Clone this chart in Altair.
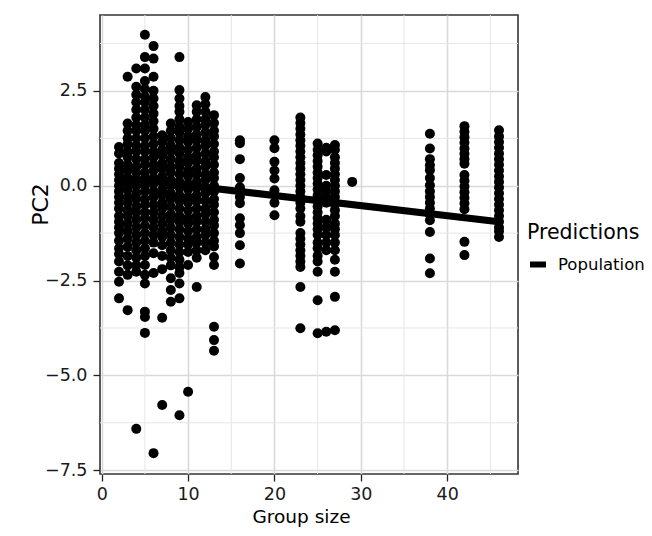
import altair as alt
import pandas as pd

# ---- data ----
group_sizes = [2, 3, 4, 5, 6, 7, 8, 9, 10, 11, 12, 13, 16, 20, 23, 25, 26, 27, 29, 38, 42, 46]

pc2_g2 = [1.02, 0.85, 0.6, 0.45, 0.3, 0.15, 0.0, -0.15, -0.3, -0.45, -0.6, -0.8, -0.95, -1.1, -1.25,
          -1.45, -1.65, -1.8, -2.0, -2.27, -2.53, -2.97]
pc2_g3 = [2.87, 1.64, 1.45, 1.25, 1.1, 0.9, 0.75, 0.55, 0.4, 0.2, 0.05, -0.1, -0.3, -0.45, -0.65,
          -0.8, -1.0, -1.2, -1.4, -1.61, -1.85, -2.1, -2.35, -3.28]
pc2_g4 = [3.09, 2.61, 2.4, 2.2, 2.0, 1.8, 1.6, 1.45, 1.25, 1.05, 0.9, 0.7, 0.5, 0.35, 0.15, 0.0,
          -0.2, -0.35, -0.55, -0.7, -0.9, -1.1, -1.3, -1.5, -1.7, -1.9, -2.1, -2.27, -6.41]
pc2_g5 = [3.98, 3.39, 3.09, 2.76, 2.55, 2.35, 2.2, 2.0, 1.8, 1.6, 1.45, 1.25, 1.05, 0.9, 0.7, 0.55,
          0.35, 0.2, 0.0, -0.15, -0.35, -0.5, -0.7, -0.85, -1.05, -1.25, -1.45, -1.65, -1.85,
          -2.09, -2.35, -2.58, -3.32, -3.46, -3.88]
pc2_g6 = [3.68, 3.35, 2.87, 2.5, 2.3, 2.1, 1.9, 1.7, 1.5, 1.3, 1.1, 0.9, 0.75, 0.55, 0.4, 0.2, 0.05,
          -0.15, -0.3, -0.5, -0.7, -0.9, -1.1, -1.3, -1.5, -1.78, -2.3, -7.05]
pc2_g7 = [1.33, 1.15, 0.95, 0.8, 0.6, 0.45, 0.25, 0.1, -0.1, -0.25, -0.45, -0.6, -0.8, -1.0, -1.2,
          -1.35, -1.57, -1.85, -2.2, -3.48, -5.78]
pc2_g8 = [1.64, 1.45, 1.25, 1.05, 0.9, 0.7, 0.5, 0.35, 0.15, 0.0, -0.2, -0.35, -0.55, -0.75, -0.9,
          -1.1, -1.3, -1.5, -1.7, -1.9, -2.1, -2.44, -2.75, -3.06]
pc2_g9 = [3.39, 2.52, 2.3, 2.1, 1.95, 1.75, 1.55, 1.4, 1.2, 1.0, 0.85, 0.65, 0.5, 0.3, 0.1, -0.05,
          -0.25, -0.4, -0.6, -0.8, -0.95, -1.15, -1.35, -1.55, -1.75, -1.95, -2.15, -2.3, -2.58,
          -2.97, -6.05]
pc2_g10 = [1.68, 1.5, 1.3, 1.15, 0.95, 0.75, 0.6, 0.4, 0.25, 0.05, -0.1, -0.3, -0.45, -0.65, -0.85,
           -1.0, -1.2, -1.4, -1.55, -1.75, -2.09, -5.43]
pc2_g11 = [2.12, 1.95, 1.75, 1.55, 1.35, 1.2, 1.0, 0.8, 0.65, 0.45, 0.3, 0.1, -0.05, -0.25, -0.4,
           -0.6, -0.8, -0.95, -1.15, -1.35, -1.5, -1.7, -1.9, -2.67]
pc2_g12 = [2.34, 2.15, 1.95, 1.75, 1.6, 1.4, 1.2, 1.05, 0.85, 0.65, 0.5, 0.3, 0.15, -0.05, -0.2,
           -0.4, -0.6, -0.75, -0.95, -1.15, -1.3, -1.5, -1.7]
pc2_g13 = [1.86, 1.65, 1.45, 1.3, 1.1, 0.9, 0.75, 0.55, 0.35, 0.2, 0.0, -0.15, -0.35, -0.5, -0.7,
           -0.9, -1.05, -1.25, -1.45, -1.6, -1.88, -2.09, -3.72, -4.07, -4.35]
pc2_g16 = [1.2, 1.12, 0.7, 0.2, -0.04, -0.12, -0.3, -0.46, -0.86, -1.04, -1.25, -1.57, -2.05]
pc2_g20 = [1.2, 0.99, 0.63, 0.4, 0.19, -0.12, -0.45, -0.78]
pc2_g23 = [1.8, 1.65, 1.5, 1.35, 1.2, 1.05, 0.9, 0.75, 0.6, 0.45, 0.3, 0.15, 0.0, -0.15, -0.3,
           -0.45, -0.6, -0.8, -0.95, -1.25, -1.4, -1.55, -1.7, -1.85, -2.0, -2.14, -2.67, -3.76]
pc2_g25 = [1.11, 0.95, 0.8, 0.65, 0.5, 0.35, 0.2, 0.05, -0.1, -0.25, -0.4, -0.55, -0.7, -0.85, -1.0,
           -1.15, -1.3, -1.5, -1.65, -1.85, -2.0, -2.27, -3.02, -3.89]
pc2_g26 = [1.0, 0.9, 0.28, 0.0, -0.15, -0.3, -0.45, -0.9, -1.1, -1.3, -1.5, -1.7, -3.85]
pc2_g27 = [1.07, 0.95, 0.75, 0.6, 0.45, 0.3, 0.15, 0.0, -0.15, -0.3, -0.5, -0.65, -0.8, -1.0, -1.15,
           -1.3, -1.5, -1.7, -1.95, -2.27, -2.93, -3.81]
pc2_g29 = [0.1]
pc2_g38 = [1.37, 0.98, 0.7, 0.54, 0.41, 0.2, 0.01, -0.15, -0.3, -0.45, -0.6, -0.75, -0.91, -1.22,
           -1.92, -2.31]
pc2_g42 = [1.57, 1.42, 1.28, 1.13, 0.98, 0.84, 0.7, 0.58, 0.28, 0.13, -0.02, -0.17, -0.32, -0.47,
           -0.62, -1.48, -1.83]
pc2_g46 = [1.46, 1.3, 1.15, 1.0, 0.85, 0.7, 0.55, 0.4, 0.25, 0.1, -0.05, -0.2, -0.35, -0.5, -0.65,
           -0.8, -0.95, -1.1, -1.2, -1.35]

pc2_columns = [pc2_g2, pc2_g3, pc2_g4, pc2_g5, pc2_g6, pc2_g7, pc2_g8, pc2_g9, pc2_g10, pc2_g11,
               pc2_g12, pc2_g13, pc2_g16, pc2_g20, pc2_g23, pc2_g25, pc2_g26, pc2_g27, pc2_g29,
               pc2_g38, pc2_g42, pc2_g46]

# population prediction line
pred_x = [2, 46]
pred_y = [0.22, -0.95]
pred_label = "Population"

x_ticks = [0, 10, 20, 30, 40]
y_ticks = [-7.5, -5.0, -2.5, 0.0, 2.5]
x_minor = [5, 15, 25, 35, 45]
y_minor = [-6.25, -3.75, -1.25, 1.25, 3.75]

# ---- tables ----
rows = []
for g, vals in zip(group_sizes, pc2_columns):
    for v in vals:
        rows.append({"size": g, "pc2": v})
pts = pd.DataFrame(rows)
pred = pd.DataFrame({"size": pred_x, "pc2": pred_y, "series": [pred_label] * len(pred_x)})
xm = pd.DataFrame({"v": x_minor})
ym = pd.DataFrame({"v": y_minor})

xs = alt.Scale(domain=[-0.2, 48.2], nice=False, zero=False)
ys = alt.Scale(domain=[-7.6, 4.5], nice=False, zero=False)

FONT = "DejaVu Sans"
TXT = "#1a1a1a"

xaxis = alt.Axis(values=x_ticks, title="Group size", grid=True, gridColor="#d9d9d9", gridWidth=1.6,
                 domain=False, tickColor="#222", tickWidth=1.3, tickSize=7,
                 labelFontSize=17.5, labelColor=TXT, labelFont=FONT, labelPadding=4,
                 titleFontSize=18.5, titleFont=FONT, titleColor="#000", titleFontWeight="normal",
                 titlePadding=5, titleX=201)
yaxis = alt.Axis(values=y_ticks, format=".1f", title="PC2", grid=True, gridColor="#d9d9d9",
                 gridWidth=1.6, domain=False, tickColor="#222", tickWidth=1.3, tickSize=7,
                 labelFontSize=17.5, labelColor=TXT, labelFont=FONT, labelPadding=6,
                 titleFontSize=22, titleFont=FONT, titleColor="#000", titleFontWeight="normal",
                 titleX=-48, titleY=189)

minor_x = alt.Chart(xm).mark_rule(color="#e6e6e6", strokeWidth=1).encode(
    x=alt.X("v:Q", scale=xs, axis=xaxis))
minor_y = alt.Chart(ym).mark_rule(color="#e6e6e6", strokeWidth=1).encode(
    y=alt.Y("v:Q", scale=ys, axis=yaxis))

points = alt.Chart(pts).mark_circle(size=100, color="black", opacity=1).encode(
    x=alt.X("size:Q", scale=xs, axis=xaxis),
    y=alt.Y("pc2:Q", scale=ys, axis=yaxis),
)

line = alt.Chart(pred).mark_line(strokeWidth=7, strokeCap="butt").encode(
    x=alt.X("size:Q", scale=xs, axis=xaxis),
    y=alt.Y("pc2:Q", scale=ys, axis=yaxis),
    color=alt.Color("series:N", scale=alt.Scale(domain=[pred_label], range=["black"]),
                    legend=alt.Legend(title="Predictions", orient="none", legendX=427, legendY=208,
                                      titleFontSize=20.5, titleFont=FONT, titleColor="#000",
                                      titleFontWeight="normal", titlePadding=10,
                                      labelFontSize=16.5, labelFont=FONT, labelColor="#000",
                                      labelOffset=9, symbolType="stroke", symbolStrokeWidth=6,
                                      symbolSize=256, symbolStrokeColor="black")),
)

chart = alt.layer(minor_x, minor_y, points, line).properties(
    width=418, height=459,
    autosize=alt.AutoSizeParams(type="none"),
    padding={"left": 92, "top": 7, "right": 126, "bottom": 54},
    background="white",
).configure_view(stroke="#333333", strokeWidth=1.6)

chart.save("out.html", embed_options={"renderer": "svg", "actions": False})
